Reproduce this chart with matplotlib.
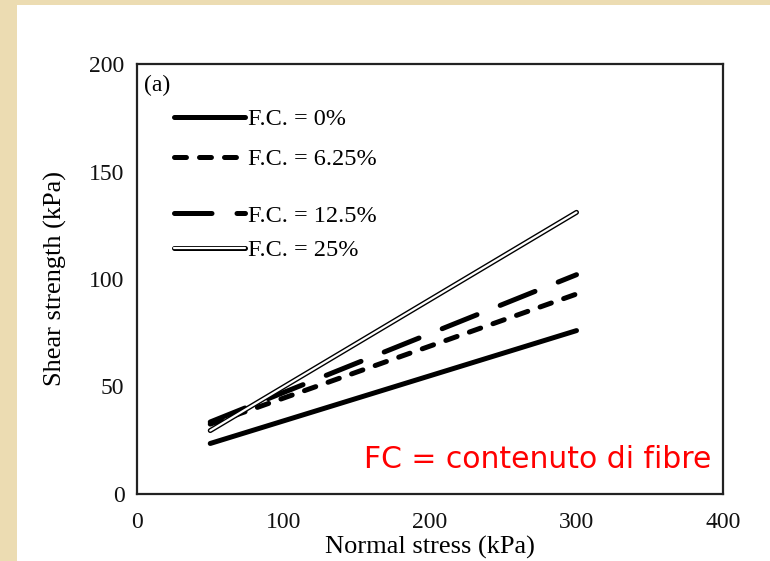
import numpy as np
import matplotlib
matplotlib.use('Agg')
import matplotlib.pyplot as plt
from matplotlib.patches import Rectangle
import matplotlib.patheffects as pe

# normal stress endpoints and fitted shear strength (kPa)
normal_stress = [50, 300]
fc_0 = [23.5, 76]
fc_625 = [32.5, 93]
fc_125 = [33.5, 102]
fc_25 = [29.5, 131]
labels = ['F.C. = 0%', 'F.C. = 6.25%', 'F.C. = 12.5%', 'F.C. = 25%']

plt.rcParams['font.family'] = ['Liberation Serif', 'DejaVu Serif']
plt.rcParams['lines.scale_dashes'] = False

fig = plt.figure(figsize=(7.7, 5.61), dpi=100)
fig.patch.set_facecolor('#ecdcb2')
fig.patches.append(Rectangle((17 / 770, 0), 1, 1 - 5 / 561, transform=fig.transFigure,
                             facecolor='white', edgecolor='none', zorder=-10))

ax = fig.add_axes([137 / 770, 1 - 494 / 561, 586 / 770, 430 / 561])
ax.set_facecolor('white')
ax.set_zorder(5)

lw = 3.6
l0, = ax.plot(normal_stress, fc_0, color='black', lw=lw, solid_capstyle='round')
l1, = ax.plot(normal_stress, fc_625, color='black', lw=lw, dash_capstyle='round',
              linestyle=(0, (8.6, 9.4)))
l2, = ax.plot(normal_stress, fc_125, color='black', lw=lw, dash_capstyle='round',
              linestyle=(0, (27, 18)))
l3, = ax.plot(normal_stress, fc_25, color='white', lw=1.6, solid_capstyle='round',
              path_effects=[pe.Stroke(linewidth=3.6, foreground='black'), pe.Normal()])

ax.set_xlim(0, 400)
ax.set_ylim(0, 200)
ax.set_xticks([0, 100, 200, 300, 400])
ax.set_yticks([0, 50, 100, 150, 200])
ax.tick_params(length=0, labelsize=17, colors='#111111')
ax.tick_params(axis='x', pad=13)
ax.tick_params(axis='y', pad=9)
for s in ax.spines.values():
    s.set_linewidth(1.6)
    s.set_color('#222222')

ax.set_xlabel('Normal stress (kPa)', fontsize=19, labelpad=2)
ax.set_ylabel('Shear strength (kPa)', fontsize=19, labelpad=16)

ax.text(0.012, 0.975, '(a)', transform=ax.transAxes, fontsize=17, va='top', ha='left')

leg_kw = dict(loc='upper left', frameon=False, fontsize=17.5, handlelength=2.95,
              handletextpad=0.1, borderaxespad=0)
leg1 = ax.legend([l0, l1], labels[:2], bbox_to_anchor=(0.046, 0.92),
                 labelspacing=0.75, **leg_kw)
ax.add_artist(leg1)
ax.legend([l2, l3], labels[2:], bbox_to_anchor=(0.046, 0.695),
          labelspacing=0.5, **leg_kw)

ax.text(0.981, 0.08, 'FC = contenuto di fibre', transform=ax.transAxes, color='red',
        fontsize=21.5, ha='right', va='center', family=['DejaVu Sans'])

fig.savefig('out.png', dpi=100, facecolor=fig.get_facecolor())
